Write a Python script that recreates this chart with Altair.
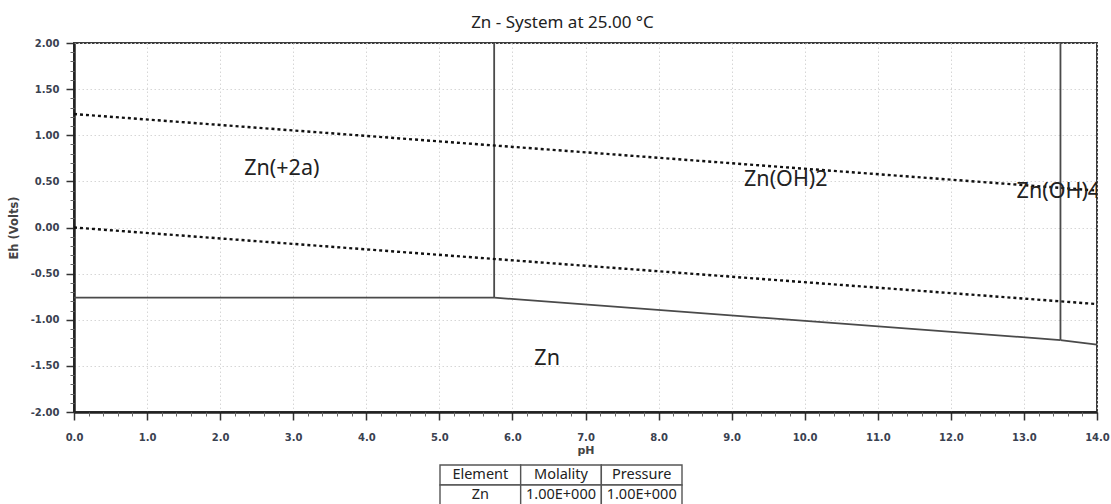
import altair as alt
import pandas as pd

# Axis tick positions
ph_major = [float(i) for i in range(15)]
ph_minor = [round(i * 0.2, 1) for i in range(71) if i % 5 != 0]
eh_major = [2.0, 1.5, 1.0, 0.5, 0.0, -0.5, -1.0, -1.5, -2.0]
eh_minor = [round(-2 + i * 0.1, 1) for i in range(41) if i % 5 != 0]

# Water stability limits (dotted)
water_id = ["O2/H2O", "O2/H2O", "H2O/H2", "H2O/H2"]
water_ph = [0.0, 14.0, 0.0, 14.0]
water_eh = [1.23, 0.40, 0.00, -0.83]

# Zn species boundaries (solid)
bound_id = ["Zn2+/Zn", "Zn2+/Zn", "Zn(OH)2/Zn", "Zn(OH)2/Zn",
            "Zn(OH)4/Zn", "Zn(OH)4/Zn", "Zn2+/Zn(OH)2", "Zn2+/Zn(OH)2",
            "Zn(OH)2/Zn(OH)4", "Zn(OH)2/Zn(OH)4"]
bound_ph = [0.0, 5.75, 5.75, 13.5, 13.5, 14.0, 5.75, 5.75, 13.5, 13.5]
bound_eh = [-0.76, -0.76, -0.76, -1.22, -1.22, -1.27, -0.76, 2.0, -1.22, 2.0]

# Region labels
label_text = ["Zn(+2a)", "Zn(OH)2", "Zn(OH)4", "Zn"]
label_ph = [2.33, 9.17, 12.9, 6.30]
label_eh = [0.63, 0.51, 0.39, -1.43]

# Conditions table
table_cols = ["Element", "Molality", "Pressure"]
table_vals = ["Zn", "1.00E+000", "1.00E+000"]

water = pd.DataFrame({"id": water_id, "pH": water_ph, "Eh": water_eh})
bounds = pd.DataFrame({"id": bound_id, "pH": bound_ph, "Eh": bound_eh})
labels = pd.DataFrame({"text": label_text, "pH": label_ph, "Eh": label_eh})

x_scale = alt.Scale(domain=[0, 14], nice=False, zero=False)
y_scale = alt.Scale(domain=[-2, 2], nice=False, zero=False)

lab_color = "#3a4150"
hyphen = "replace(format(datum.value, '{fmt}'), '\u2212', '-')"

x_major = alt.Axis(values=ph_major, labelExpr=hyphen.format(fmt=".1f"), title="pH",
                   orient="bottom",
                   tickSize=8, tickColor="#333", tickWidth=1.5,
                   domainColor="#222", domainWidth=2.5,
                   labelFont="DejaVu Sans", labelFontWeight="bold", labelFontSize=10,
                   labelColor=lab_color, labelPadding=12, labelFlush=False,
                   grid=True, gridColor="#d6d6d6", gridDash=[1.5, 2.5], gridWidth=1,
                   titleFont="DejaVu Sans", titleFontWeight="bold", titleFontSize=11,
                   titleColor="#444", titlePadding=2)
y_major = alt.Axis(values=eh_major, labelExpr=hyphen.format(fmt=".2f"), title="Eh (Volts)",
                   orient="left",
                   tickSize=8, tickColor="#333", tickWidth=1.5,
                   domainColor="#222", domainWidth=2.5,
                   labelFont="DejaVu Sans", labelFontWeight="bold", labelFontSize=10,
                   labelColor=lab_color, labelPadding=7, labelFlush=False,
                   grid=True, gridColor="#d6d6d6", gridDash=[1.5, 2.5], gridWidth=1,
                   titleFont="DejaVu Sans", titleFontWeight="bold", titleFontSize=11.5,
                   titleColor="#444", titlePadding=11)
x_minor = alt.Axis(values=ph_minor, orient="bottom", labels=False, domain=False,
                   grid=False, title=None, tickSize=4, tickColor="#666", tickWidth=1)
y_minor = alt.Axis(values=eh_minor, orient="left", labels=False, domain=False,
                   grid=False, title=None, tickSize=4, tickColor="#666", tickWidth=1)

solid = alt.Chart(bounds).mark_line(color="#4a4a4a", strokeWidth=1.8).encode(
    x=alt.X("pH:Q", scale=x_scale, axis=x_major),
    y=alt.Y("Eh:Q", scale=y_scale, axis=y_major),
    detail="id:N",
)

minor = alt.Chart(bounds).mark_line(opacity=0).encode(
    x=alt.X("pH:Q", scale=x_scale, axis=x_minor),
    y=alt.Y("Eh:Q", scale=y_scale, axis=y_minor),
    detail="id:N",
)

dotted = alt.Chart(water).mark_line(color="#111", strokeWidth=2.4, strokeDash=[3, 3]).encode(
    x=alt.X("pH:Q", scale=x_scale, axis=None),
    y=alt.Y("Eh:Q", scale=y_scale, axis=None),
    detail="id:N",
)

text = alt.Chart(labels).mark_text(align="left", baseline="middle", font="Noto Sans",
                                   fontSize=21.5, color="#222", clip=True).encode(
    x=alt.X("pH:Q", scale=x_scale, axis=None),
    y=alt.Y("Eh:Q", scale=y_scale, axis=None),
    text="text:N",
)

plot = alt.layer(solid, minor, dotted, text).resolve_axis(
    x="independent", y="independent"
).properties(
    width=1023, height=369,
    title=alt.TitleParams("Zn - System at 25.00 °C", font="Noto Sans", fontSize=17,
                          fontWeight="normal", color="#222", anchor="middle",
                          offset=6, dx=-23),
)

# Conditions table under the x axis; its view spans the plot width
table_df = pd.DataFrame({
    "col": table_cols * 2,
    "row": ["head"] * 3 + ["body"] * 3,
    "txt": table_cols + table_vals,
})
tx = alt.X("col:N", sort=table_cols, axis=None,
           scale=alt.Scale(paddingInner=0, paddingOuter=0, range=[366, 608]))
ty = alt.Y("row:N", sort=["head", "body"], axis=None,
           scale=alt.Scale(paddingInner=0, paddingOuter=0))
cells = alt.Chart(table_df).mark_rect(fill="white", stroke="#555", strokeWidth=1.4).encode(
    x=tx, y=ty)
cell_text = alt.Chart(table_df).mark_text(font="Noto Sans", fontSize=14.5, color="#222").encode(
    x=tx, y=ty, text="txt:N")
table = alt.layer(cells, cell_text).properties(
    width=1023, height=40, view=alt.ViewBackground(stroke="transparent"))

chart = alt.vconcat(plot, table, spacing=7).properties(
    padding={"left": 7, "top": 13, "right": 0, "bottom": 0},
    background="white",
).configure_view(stroke="#3c3c3c", strokeWidth=2)

chart.save("out.html", embed_options={"renderer": "svg", "actions": False})
